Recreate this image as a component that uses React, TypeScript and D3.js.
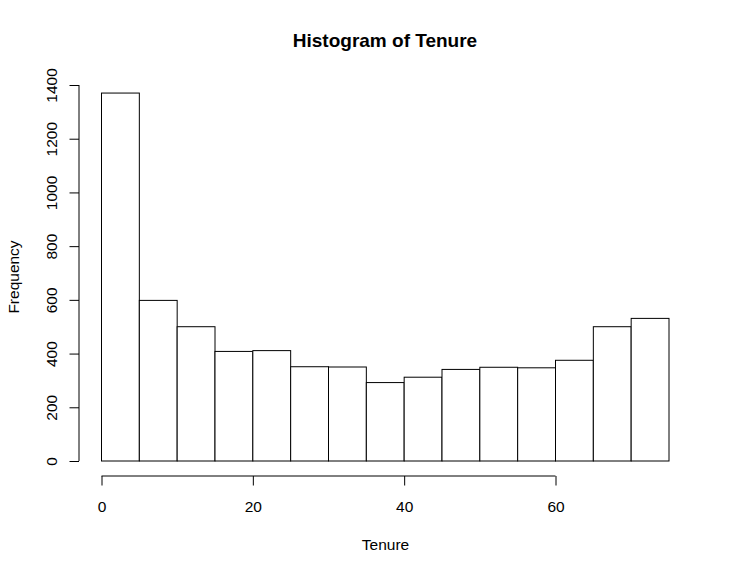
import { useEffect, useRef } from "react";
import * as d3 from "d3";

const BIN_STARTS = [0, 5, 10, 15, 20, 25, 30, 35, 40, 45, 50, 55, 60, 65, 70];
const BIN_WIDTH = 5;
const COUNTS = [1370, 598, 500, 408, 411, 351, 350, 292, 312, 341, 349, 347, 375, 500, 531];
const X_TICKS = [0, 20, 40, 60];
const Y_TICKS = [0, 200, 400, 600, 800, 1000, 1200, 1400];

const W = 733, H = 574;
const FONT = "'Liberation Sans', Arial, Helvetica, sans-serif";

export default function App() {
  const svgRef = useRef<SVGSVGElement>(null);

  useEffect(() => {
    document.body.style.margin = "0";
    const svg = d3.select(svgRef.current).attr("width", W).attr("height", H);
    svg.selectAll("*").remove();
    svg.append("rect").attr("width", W).attr("height", H).attr("fill", "white");

    // R style: domain extended 4% on each side
    const x = d3.scaleLinear().domain([-3, 78]).range([78.8, 691.7]);
    const y = d3.scaleLinear().domain([0, 1400]).range([461, 85]);
    const axisY = 476;
    const axisX = 79;

    // bars
    svg.append("g").selectAll("rect").data(BIN_STARTS).join("rect")
      .attr("x", d => x(d))
      .attr("width", d => x(d + BIN_WIDTH) - x(d))
      .attr("y", (d, i) => y(COUNTS[i]))
      .attr("height", (d, i) => y(0) - y(COUNTS[i]))
      .attr("fill", "white").attr("stroke", "black").attr("stroke-width", 1);

    // x axis
    const gx = svg.append("g").attr("transform", `translate(0,${axisY})`);
    gx.call(d3.axisBottom(x).tickValues(X_TICKS).tickSize(9.5).tickSizeOuter(0).tickPadding(0).tickFormat(d3.format("d")))
      .call(g => {
        g.select(".domain").attr("d", `M${x(X_TICKS[0])},0H${x(X_TICKS[X_TICKS.length - 1])}`).attr("stroke", "black");
        g.selectAll("line").attr("stroke", "black");
        g.selectAll("text").attr("y", 35.7).attr("dy", null).attr("fill", "black")
          .attr("font-size", 15.5).attr("font-family", FONT);
      });

    // y axis
    const gy = svg.append("g").attr("transform", `translate(${axisX},0)`);
    gy.call(d3.axisLeft(y).tickValues(Y_TICKS).tickSize(9.5).tickSizeOuter(0).tickFormat(d3.format("d")))
      .call(g => {
        g.select(".domain").attr("d", `M0,${y(0)}V${y(1400)}`).attr("stroke", "black");
        g.selectAll("line").attr("stroke", "black");
        g.selectAll(".tick text")
          .attr("x", null).attr("dy", null).attr("y", null)
          .attr("transform", "translate(-22,0) rotate(-90)")
          .attr("text-anchor", "middle")
          .attr("fill", "black").attr("font-size", 15.5).attr("font-family", FONT);
      });

    // title and axis labels
    svg.append("text").attr("x", 385).attr("y", 47).attr("text-anchor", "middle")
      .attr("font-family", FONT).attr("font-size", 19).attr("font-weight", "bold")
      .text("Histogram of Tenure");
    svg.append("text").attr("x", 385.5).attr("y", 550).attr("text-anchor", "middle")
      .attr("font-family", FONT).attr("font-size", 15.5).text("Tenure");
    svg.append("text").attr("transform", `translate(19,277) rotate(-90)`).attr("text-anchor", "middle")
      .attr("font-family", FONT).attr("font-size", 15.5).text("Frequency");
  }, []);

  return (
    <div style={{ position: "absolute", left: 0, top: 0 }}>
      <svg ref={svgRef} />
    </div>
  );
}
